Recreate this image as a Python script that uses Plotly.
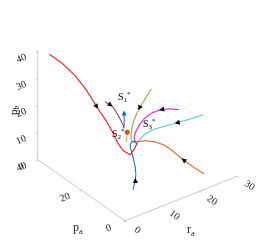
import plotly.graph_objects as go

# ---- data (r_a, p_a, p_b) ----
red_ra = [2, 2.5, 3, 3.5, 4, 4.5, 5, 5.5, 6, 7, 7.8, 8.3, 8.5]
red_pa = [38.1, 33.15, 28.22, 23.74, 19.26, 16.56, 14.74, 12.92, 11.11, 9.70, 9.29, 8.80, 10.0]
red_pb = [38.9, 38.09, 36.19, 32.99, 28.32, 25.37, 22.36, 18.63, 16.35, 15.10, 16.74, 18.92, 19.0]

purple_ra = [4, 4, 4, 4, 4, 4, 4, 4]
purple_pa = [16.15, 14.37, 12.59, 11.26, 9.92, 8.59, 7.70, 7.26]
purple_pb = [32.70, 32.82, 32.93, 32.11, 30.92, 29.73, 28.70, 27.81]

green_ra = [12, 11.5, 11, 10.5, 10, 9.5, 9, 8.7, 8.5, 8.5, 8.5]
green_pa = [8.44, 9.37, 10.29, 11.22, 11.70, 12.18, 12.22, 12.16, 11.81, 10.92, 10.0]
green_pb = [37.39, 35.0, 32.25, 29.86, 27.68, 25.13, 22.80, 20.43, 18.86, 18.19, 19.0]

magenta_ra = [18, 16, 14, 12.5, 11, 10, 9.2, 8.7, 8.5]
magenta_pa = [6.22, 7.26, 8.29, 9.29, 9.85, 10.37, 10.78, 10.82, 10.0]
magenta_pb = [27.68, 28.47, 28.54, 27.67, 26.28, 24.31, 21.94, 19.97, 19.0]

cyan_ra = [25, 21, 17.5, 14.5, 12, 10.5, 9.5, 8.8, 8.5]
cyan_pa = [7.04, 6.88, 7.15, 7.81, 8.44, 9.0, 9.52, 9.66, 10.0]
cyan_pb = [21.52, 21.98, 22.38, 22.35, 22.12, 21.09, 19.49, 17.92, 19.0]

orange_ra = [22, 20, 17.5, 15.5, 13.5, 11.5, 10, 9, 8.5]
orange_pa = [1.48, 2.96, 4.04, 4.63, 4.78, 5.81, 7.70, 9.56, 10.0]
orange_pb = [4.44, 7.2, 11.12, 14.67, 17.71, 19.59, 19.75, 18.97, 19.0]

blue_ra = [8, 8.5, 8.5, 8.3, 8, 7.8, 7.8, 8.2, 8.5]
blue_pa = [10.07, 10.04, 9.59, 9.69, 10.07, 10.62, 11.07, 10.86, 10.0]
blue_pb = [1.37, 4.07, 7.19, 10.50, 13.37, 15.75, 17.72, 18.72, 19.0]

gold_ra = [5, 6]
gold_pa = [7.6, 9.78]
gold_pb = [25.7, 20.25]

# equilibria
eq_names = ["S<sub>1</sub><sup>*</sup>", "S<sub>2</sub><sup>*</sup>", "S<sub>3</sub><sup>*</sup>"]
eq_label_ra = [4, 4, 12]
eq_label_pa = [7.26, 9.92, 9.33]
eq_label_pb = [39.4, 24.4, 23.9]
s2_point = (5, 7.6, 25.7)
s1_arrow_tip = (4, 7.26, 34.4)

# direction arrows on trajectories: (ra, pa, pb, ax, ay)
arrow_pts = [
    (4, 19.26, 28.32, -3, -5),      # red
    (4, 12.59, 32.93, -4, -3),      # purple
    (10.25, 11.46, 28.77, 2.5, -5), # green
    (14, 8.29, 28.54, 5, -1),       # magenta
    (17.5, 7.15, 22.38, 5, -1),     # cyan
    (17.5, 4.04, 11.12, 4, 3),      # orange
    (8.5, 9.8, 5.6, 0, 5),          # blue
]

ra_ticks = [0, 10, 20, 30]
pa_ticks = [0, 20, 40]
pb_ticks = [0, 10, 20, 30, 40]

fig = go.Figure()

def add_line(x, y, z, color):
    fig.add_trace(go.Scatter3d(x=x, y=y, z=z, mode="lines",
                               line=dict(color=color, width=2),
                               showlegend=False, hoverinfo="skip"))

add_line(red_ra, red_pa, red_pb, "#FF0000")
add_line(purple_ra, purple_pa, purple_pb, "#7E2F8E")
add_line(green_ra, green_pa, green_pb, "#77AC30")
add_line(magenta_ra, magenta_pa, magenta_pb, "#FF00CC")
add_line(cyan_ra, cyan_pa, cyan_pb, "#4DBEEE")
add_line(orange_ra, orange_pa, orange_pb, "#D95319")
add_line(blue_ra, blue_pa, blue_pb, "#0072BD")
add_line(gold_ra, gold_pa, gold_pb, "#EDB120")

fig.add_trace(go.Scatter3d(x=[s2_point[0]], y=[s2_point[1]], z=[s2_point[2]],
                           mode="markers",
                           marker=dict(color="#D95319", size=3),
                           showlegend=False, hoverinfo="skip"))

annotations = []
for (x, y, z, ax, ay) in arrow_pts:
    annotations.append(dict(x=x, y=y, z=z, text="", showarrow=True,
                            arrowhead=2, arrowsize=1, arrowwidth=1,
                            arrowcolor="black", ax=ax, ay=ay))
annotations.append(dict(x=s1_arrow_tip[0], y=s1_arrow_tip[1], z=s1_arrow_tip[2],
                        text="", showarrow=True, arrowhead=2, arrowsize=1,
                        arrowwidth=1, arrowcolor="#0072BD", ax=0, ay=18))
for name, x, y, z in zip(eq_names, eq_label_ra, eq_label_pa, eq_label_pb):
    annotations.append(dict(x=x, y=y, z=z, text=name, showarrow=False,
                            font=dict(family="Liberation Serif", size=10, color="black")))

axis_common = dict(showbackground=False, showgrid=False, zeroline=False,
                   showline=True, linecolor="#999999", linewidth=1,
                   ticks="outside", tickcolor="#999999", ticklen=3,
                   showspikes=False, title=dict(text=""),
                   tickfont=dict(family="Liberation Serif", size=11, color="#222222"))

title_font = dict(family="Liberation Serif", size=12, color="#222222")

fig.update_layout(
    width=266, height=241,
    margin=dict(l=0, r=0, t=0, b=0),
    paper_bgcolor="white",
    font=dict(family="Liberation Serif"),
    scene=dict(
        domain=dict(x=[0.0035, 0.9695], y=[0.046, 1]),
        xaxis=dict(range=[0, 30], tickvals=ra_ticks, **axis_common),
        yaxis=dict(range=[0, 40], tickvals=pa_ticks, **axis_common),
        zaxis=dict(range=[0, 40], tickvals=pb_ticks, **axis_common),
        aspectmode="manual",
        aspectratio=dict(x=1.22, y=1.26, z=1.11),
        camera=dict(eye=dict(x=-1.084, y=-1.438, z=1.026),
                    up=dict(x=0, y=0, z=1), center=dict(x=0, y=0, z=-0.094),
                    projection=dict(type="orthographic")),
        annotations=annotations,
    ),
    annotations=[
        dict(text="r<sub>a</sub>", x=183 / 266, y=1 - 222 / 241, xref="paper", yref="paper",
             xanchor="center", yanchor="middle", showarrow=False, font=title_font),
        dict(text="p<sub>a</sub>", x=70 / 266, y=1 - 220 / 241, xref="paper", yref="paper",
             xanchor="center", yanchor="middle", showarrow=False, font=title_font),
        dict(text="p<sub>b</sub>", x=6 / 266, y=1 - 102 / 241, xref="paper", yref="paper",
             xanchor="center", yanchor="middle", showarrow=False, textangle=-90,
             font=dict(family="Liberation Serif", size=11, color="#222222")),
    ],
)

fig.write_html("out.html")
